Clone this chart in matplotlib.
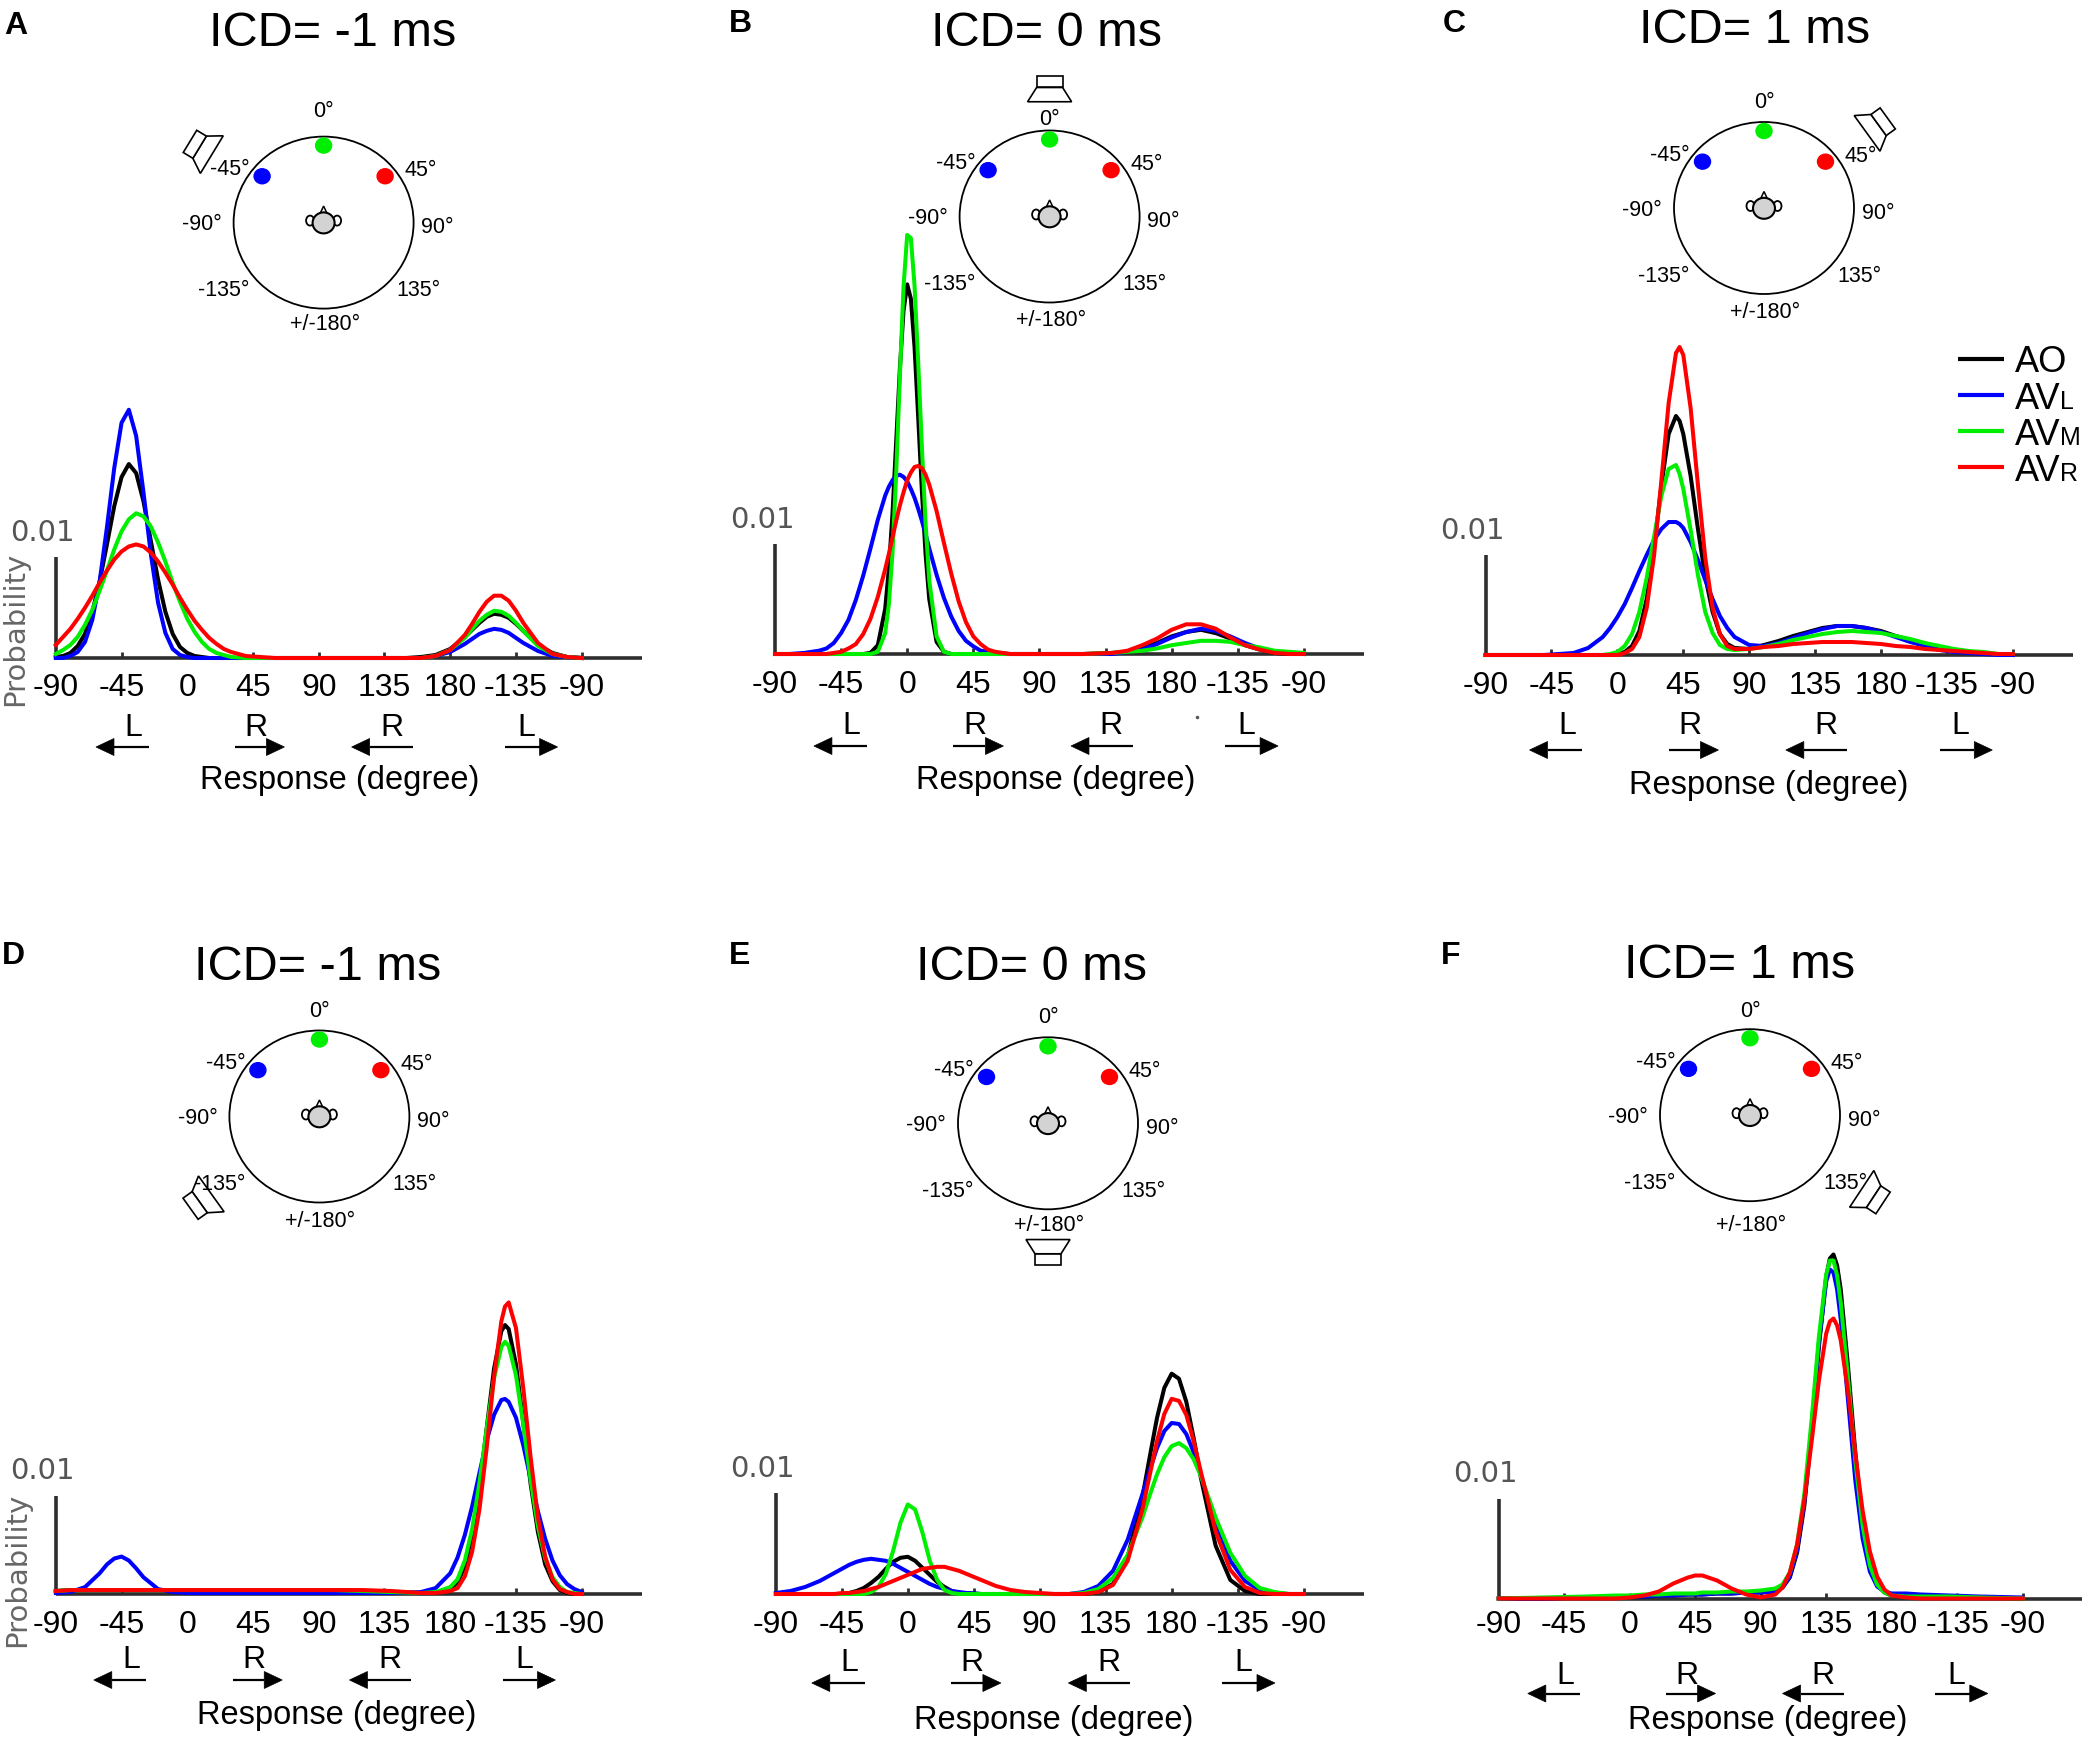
import numpy as np
import matplotlib
matplotlib.use("Agg")
import matplotlib.pyplot as plt
from matplotlib.patches import Ellipse, Polygon

plt.rcParams["font.family"] = ["Liberation Sans", "DejaVu Sans"]

W, H = 2089, 1744

# response distributions
# y values are probability in units of 1e-3 (scale bar = 10 -> "0.01")

# A  ICD = -1 ms, front loudspeaker at -45
x_A = [-90, -85, -80, -75, -70, -65, -60, -55, -50, -45, -40, -35, -30, -25, -20, -15, -10, -5, 0, 5,
       10, 15, 20, 25, 30, 40, 50, 60, 80, 100, 120, 140, 150, 160, 170, 180, 190, 195, 200, 205,
       210, 215, 220, 225, 230, 240, 250, 260, 270]
ao_A = [0.1, 0.2, 0.5, 1.2, 2.4, 4.6, 7.6, 11.3, 15.1, 18.0, 19.3, 18.4, 15.6, 11.7, 7.8, 4.6, 2.4, 1.1, 0.5, 0.2,
        0.1, 0, 0, 0, 0, 0, 0, 0, 0, 0, 0, 0, 0, 0.1, 0.3, 0.9, 2.1, 2.8, 3.5, 4.1,
        4.4, 4.3, 4.0, 3.4, 2.7, 1.3, 0.5, 0.1, 0]
avl_A = [0, 0, 0.2, 0.6, 1.6, 3.8, 7.6, 13.0, 18.9, 23.4, 24.7, 22.1, 16.5, 10.4, 5.5, 2.5, 0.9, 0.3, 0.1, 0,
         0, 0, 0, 0, 0, 0, 0, 0, 0, 0, 0, 0, 0, 0, 0.2, 0.6, 1.4, 1.9, 2.4, 2.7,
         2.9, 2.8, 2.5, 2.0, 1.5, 0.7, 0.2, 0.1, 0]
avm_A = [0.4, 0.8, 1.3, 2.1, 3.3, 4.8, 6.7, 8.7, 10.8, 12.6, 13.8, 14.4, 14.1, 13.1, 11.5, 9.6, 7.5, 5.6, 3.9, 2.6,
         1.6, 0.9, 0.5, 0.3, 0.1, 0, 0, 0, 0, 0, 0, 0, 0, 0, 0.2, 0.8, 2.0, 2.9, 3.7, 4.3,
         4.7, 4.6, 4.2, 3.5, 2.7, 1.2, 0.4, 0.1, 0]
avr_A = [1.3, 2.1, 2.9, 3.9, 5.0, 6.2, 7.5, 8.7, 9.8, 10.6, 11.1, 11.3, 11.1, 10.5, 9.6, 8.5, 7.3, 6.0, 4.8, 3.7,
         2.8, 2.0, 1.4, 0.9, 0.6, 0.2, 0.1, 0, 0, 0, 0, 0, 0, 0, 0.2, 0.8, 2.3, 3.4, 4.6, 5.6,
         6.2, 6.2, 5.7, 4.7, 3.5, 1.5, 0.4, 0.1, 0]

# B  ICD = 0 ms, loudspeaker at 0
x_B = [-90, -80, -70, -60, -55, -50, -45, -40, -35, -30, -25, -20, -15, -12.5, -10, -7.5, -5, -2.5, 0, 2.5,
       5, 7.5, 10, 12.5, 15, 20, 25, 30, 35, 40, 45, 50, 55, 60, 70, 80, 100, 120, 140, 150,
       160, 170, 180, 190, 200, 210, 220, 230, 240, 250, 260, 270]
ao_B = [0, 0, 0, 0, 0, 0, 0, 0, 0, 0, 0.1, 0.8, 4.1, 7.7, 12.8, 19.3, 25.9, 31.2, 33.6, 32.3,
        27.9, 21.5, 14.8, 9.1, 5.0, 1.1, 0.2, 0, 0, 0, 0, 0, 0, 0, 0, 0, 0, 0, 0.1, 0.2,
        0.5, 1.0, 1.6, 2.0, 2.2, 1.9, 1.4, 0.8, 0.4, 0.1, 0, 0]
avl_B = [0, 0, 0.1, 0.3, 0.5, 1.0, 1.9, 3.1, 4.9, 7.1, 9.6, 12.2, 14.4, 15.2, 15.8, 16.2, 16.3, 16.1, 15.7, 15.0,
         14.2, 13.2, 12.1, 10.9, 9.6, 7.2, 5.1, 3.4, 2.1, 1.2, 0.7, 0.3, 0.2, 0.1, 0, 0, 0, 0, 0, 0.2,
         0.4, 0.9, 1.5, 2.0, 2.3, 2.1, 1.6, 1.0, 0.5, 0.2, 0.1, 0]
avm_B = [0, 0, 0, 0, 0, 0, 0, 0, 0, 0, 0, 0.2, 1.9, 4.5, 9.2, 16.4, 25.2, 33.4, 38.1, 37.8,
         33.5, 26.5, 18.8, 11.9, 6.7, 1.6, 0.2, 0, 0, 0, 0, 0, 0, 0, 0, 0, 0, 0, 0.1, 0.2,
         0.3, 0.5, 0.8, 1.0, 1.2, 1.2, 1.1, 0.8, 0.6, 0.3, 0.2, 0.1]
avr_B = [0, 0, 0, 0, 0, 0.1, 0.2, 0.5, 0.9, 1.8, 3.2, 5.2, 7.7, 9.1, 10.6, 12.1, 13.5, 14.7, 15.8, 16.5,
         17.0, 17.1, 16.9, 16.3, 15.4, 13.0, 10.1, 7.3, 4.8, 2.9, 1.6, 0.9, 0.4, 0.2, 0, 0, 0, 0, 0.1, 0.3,
         0.8, 1.4, 2.2, 2.7, 2.7, 2.3, 1.5, 0.8, 0.4, 0.1, 0, 0]

# C  ICD = 1 ms, loudspeaker at 45
x_C = [-90, -75, -60, -50, -40, -30, -20, -10, -5, 0, 5, 10, 15, 20, 25, 30, 35, 40, 42.5, 45,
       50, 55, 60, 65, 70, 75, 80, 90, 100, 110, 120, 130, 140, 150, 160, 170, 180, 190, 200, 210,
       220, 230, 240, 250, 260, 270]
ao_C = [0, 0, 0, 0, 0, 0, 0, 0, 0, 0.1, 0.3, 0.9, 2.4, 5.6, 10.7, 16.9, 22.1, 23.9, 23.4, 22.1,
        17.9, 12.6, 7.8, 4.3, 2.1, 1.1, 0.7, 0.6, 1.0, 1.4, 1.9, 2.3, 2.7, 2.9, 2.9, 2.7, 2.4, 1.9, 1.5, 1.1,
        0.7, 0.4, 0.3, 0.1, 0.1, 0]
avl_C = [0, 0, 0, 0, 0.1, 0.2, 0.7, 1.8, 2.7, 3.8, 5.1, 6.7, 8.4, 10.0, 11.5, 12.6, 13.3, 13.3, 13.1, 12.7,
         11.3, 9.5, 7.5, 5.6, 3.9, 2.7, 1.8, 1.0, 0.9, 1.2, 1.7, 2.2, 2.6, 2.9, 2.9, 2.7, 2.3, 1.8, 1.3, 0.9,
         0.5, 0.3, 0.2, 0.1, 0, 0]
avm_C = [0, 0, 0, 0, 0, 0, 0, 0, 0.1, 0.3, 0.9, 2.1, 4.3, 7.7, 11.8, 15.9, 18.6, 19.0, 18.1, 16.6,
         12.5, 8.0, 4.3, 2.2, 1.0, 0.6, 0.5, 0.6, 0.8, 1.1, 1.5, 1.8, 2.1, 2.3, 2.4, 2.3, 2.2, 1.9, 1.6, 1.2,
         0.9, 0.6, 0.4, 0.3, 0.1, 0.1]
avr_C = [0, 0, 0, 0, 0, 0, 0, 0, 0, 0, 0.2, 0.6, 1.8, 4.7, 9.9, 17.4, 25.2, 30.2, 30.8, 30.0,
         24.7, 17.0, 9.7, 4.7, 2.1, 0.9, 0.6, 0.6, 0.8, 0.9, 1.1, 1.2, 1.3, 1.3, 1.3, 1.2, 1.1, 0.9, 0.8, 0.6,
         0.5, 0.4, 0.3, 0.2, 0.1, 0.1]

# D  ICD = -1 ms, loudspeaker at -135
x_D = [-90, -80, -70, -60, -55, -50, -45, -40, -35, -30, -20, -10, 0, 20, 40, 60, 80, 100, 120, 140,
       160, 170, 180, 185, 190, 195, 200, 205, 210, 215, 217.5, 220, 225, 230, 235, 240, 245, 250, 255, 260,
       265, 270]
ao_D = [0.3, 0.4, 0.4, 0.4, 0.4, 0.4, 0.4, 0.4, 0.4, 0.4, 0.4, 0.4, 0.4, 0.4, 0.4, 0.4, 0.4, 0.4, 0.3, 0.2,
        0.1, 0.1, 0.5, 1.2, 2.8, 6.0, 10.8, 16.9, 22.9, 26.7, 27.3, 26.9, 23.3, 17.4, 11.2, 6.3, 3.0, 1.3, 0.4, 0.1,
        0, 0]
avl_D = [0.1, 0.2, 0.7, 2.1, 3.0, 3.6, 3.8, 3.4, 2.6, 1.7, 0.5, 0.2, 0.1, 0.1, 0.1, 0.1, 0.1, 0.1, 0.1, 0.1,
         0.2, 0.6, 2.1, 3.7, 6.0, 8.9, 12.3, 15.6, 18.2, 19.7, 19.8, 19.5, 17.9, 15.1, 11.7, 8.4, 5.6, 3.4, 1.9, 1.0,
         0.5, 0.2]
avm_D = [0.3, 0.4, 0.4, 0.4, 0.4, 0.4, 0.4, 0.4, 0.4, 0.4, 0.4, 0.4, 0.4, 0.4, 0.4, 0.4, 0.4, 0.4, 0.3, 0.2,
         0.1, 0.2, 0.7, 1.5, 3.4, 6.6, 11.3, 16.8, 21.9, 25.1, 25.6, 25.2, 22.2, 17.2, 11.6, 6.9, 3.6, 1.7, 0.7, 0.2,
         0.1, 0]
avr_D = [0.3, 0.4, 0.4, 0.4, 0.4, 0.4, 0.4, 0.4, 0.4, 0.4, 0.4, 0.4, 0.4, 0.4, 0.4, 0.4, 0.4, 0.4, 0.4, 0.3,
         0.1, 0.1, 0.3, 0.6, 1.8, 4.3, 8.6, 14.9, 22.1, 27.7, 29.2, 29.6, 27.0, 20.9, 13.9, 7.8, 3.8, 1.5, 0.5, 0.2,
         0, 0]

# E  ICD = 0 ms, loudspeaker at 180
x_E = [-90, -80, -70, -60, -50, -45, -40, -35, -30, -25, -20, -15, -10, -5, 0, 5, 10, 15, 20, 25,
       30, 35, 40, 50, 60, 70, 80, 90, 100, 110, 120, 130, 140, 150, 160, 165, 170, 175, 180, 185,
       190, 195, 200, 210, 220, 230, 240, 250, 260, 270]
ao_E = [0, 0, 0, 0, 0, 0, 0.1, 0.3, 0.6, 1.1, 1.7, 2.5, 3.2, 3.6, 3.7, 3.3, 2.6, 1.9, 1.2, 0.7,
        0.3, 0.1, 0.1, 0, 0, 0, 0, 0, 0, 0, 0, 0.2, 1.0, 3.7, 9.6, 13.6, 17.5, 20.5, 21.9, 21.4,
        19.1, 15.5, 11.5, 4.8, 1.4, 0.3, 0, 0, 0, 0]
avl_E = [0.1, 0.3, 0.7, 1.3, 2.1, 2.5, 2.9, 3.2, 3.4, 3.5, 3.4, 3.3, 3.0, 2.6, 2.2, 1.8, 1.4, 1.0, 0.7, 0.5,
         0.3, 0.2, 0.1, 0, 0, 0, 0, 0, 0, 0, 0.2, 0.8, 2.3, 5.4, 9.9, 12.3, 14.5, 16.2, 17.0, 16.9,
         15.9, 14.1, 11.8, 7.0, 3.3, 1.3, 0.4, 0.1, 0, 0]
avm_E = [0, 0, 0, 0, 0, 0, 0, 0, 0, 0.2, 0.7, 2.0, 4.3, 7.1, 8.9, 8.4, 6.1, 3.3, 1.4, 0.4,
         0.1, 0, 0, 0, 0, 0, 0, 0, 0, 0, 0.1, 0.5, 1.6, 3.9, 7.6, 9.8, 11.9, 13.6, 14.7, 15.0,
         14.5, 13.4, 11.7, 7.6, 4.1, 1.8, 0.6, 0.2, 0, 0]
avr_E = [0, 0, 0, 0, 0, 0.1, 0.1, 0.2, 0.3, 0.5, 0.7, 1.0, 1.3, 1.6, 1.9, 2.2, 2.5, 2.6, 2.7, 2.7,
         2.5, 2.3, 2.0, 1.4, 0.8, 0.4, 0.2, 0.1, 0, 0, 0, 0.2, 0.9, 3.3, 8.4, 11.8, 15.2, 17.9, 19.4, 19.2,
         17.8, 15.2, 12.1, 6.2, 2.4, 0.7, 0.1, 0, 0, 0]

# F  ICD = 1 ms, loudspeaker at 135
x_F = [-90, -60, -30, -10, 0, 10, 20, 30, 40, 45, 50, 60, 70, 80, 90, 100, 105, 110, 115, 120,
       125, 130, 135, 137.5, 140, 142.5, 145, 150, 155, 160, 165, 170, 175, 180, 190, 200, 220, 240, 270]
ao_F = [0, 0, 0.1, 0.2, 0.2, 0.2, 0.3, 0.3, 0.4, 0.4, 0.4, 0.5, 0.5, 0.6, 0.6, 0.7, 1.1, 2.1, 4.6, 9.3,
        16.6, 25.2, 32.2, 34.0, 34.4, 33.3, 30.9, 23.2, 14.6, 7.7, 3.5, 1.4, 0.6, 0.3, 0.2, 0.2, 0.1, 0.1, 0]
avl_F = [0, 0, 0.1, 0.2, 0.2, 0.2, 0.3, 0.3, 0.4, 0.4, 0.4, 0.5, 0.5, 0.6, 0.6, 0.7, 1.1, 2.2, 4.8, 9.7,
         17.2, 25.6, 31.7, 32.9, 32.6, 30.9, 27.9, 19.8, 11.8, 6.0, 2.7, 1.2, 0.7, 0.5, 0.5, 0.4, 0.3, 0.2, 0.1]
avm_F = [0, 0.1, 0.2, 0.3, 0.3, 0.4, 0.4, 0.5, 0.5, 0.5, 0.6, 0.6, 0.7, 0.7, 0.8, 1.0, 1.4, 2.6, 5.4, 10.5,
         17.9, 26.2, 32.4, 33.8, 33.8, 32.3, 29.6, 22.0, 13.8, 7.3, 3.3, 1.4, 0.6, 0.3, 0.2, 0.2, 0.2, 0.1, 0]
avr_F = [0, 0, 0, 0, 0.1, 0.3, 0.7, 1.5, 2.1, 2.3, 2.3, 1.8, 1.0, 0.4, 0.1, 0.4, 1.1, 2.6, 5.4, 9.9,
         15.7, 21.8, 26.5, 27.7, 28.0, 27.3, 25.8, 20.7, 14.5, 8.8, 4.7, 2.2, 0.9, 0.3, 0.1, 0, 0, 0, 0]

tick_pos = [-90, -45, 0, 45, 90, 135, 180, 225, 270]
tick_lab = ["-90", "-45", "0", "45", "90", "135", "180", "-135", "-90"]
curve_colors = ["#000000", "#0000ff", "#00ee00", "#ff0000"]
legend_main = ["AO", "AV", "AV", "AV"]
legend_sub = ["", "L", "M", "R"]
panel_titles = ["ICD= -1 ms", "ICD= 0 ms", "ICD= 1 ms", "ICD= -1 ms", "ICD= 0 ms", "ICD= 1 ms"]
panel_letters = ["A", "B", "C", "D", "E", "F"]
dial_labels = ["0°", "-45°", "45°", "-90°", "90°", "-135°", "135°", "+/-180°"]
dot_az = [-53, 0, 53]  # AVL, AVM, AVR marks on the dial, as drawn

curves = [
    (x_A, [ao_A, avl_A, avm_A, avr_A]),
    (x_B, [ao_B, avl_B, avm_B, avr_B]),
    (x_C, [ao_C, avl_C, avm_C, avr_C]),
    (x_D, [ao_D, avl_D, avm_D, avr_D]),
    (x_E, [ao_E, avl_E, avm_E, avr_E]),
    (x_F, [ao_F, avl_F, avm_F, avr_F]),
]

# layout in pixels of the 2089x1744 canvas
layout = [
    dict(x0=55.8, sp=65.74, base=658, bar=100.5, circ=(323.6, 222.6), title=(332.6, 29), letter=(16, 23),
         spk=(-58.7, 143.6), top=-113, bottom=99.7, shift=0.5, offs=(66, 89, 122), resp=104, tick=26,
         prob=(15.6, 628.5)),
    dict(x0=775, sp=66.1, base=654, bar=110, circ=(1049.6, 216.5), title=(1046.8, 29), letter=(740, 21),
         spk=(0, 127.5), top=-99, bottom=102.3, shift=-0.5, offs=(68, 92, 126), resp=101, tick=27, prob=None),
    dict(x0=1485.6, sp=65.9, base=655, bar=100, circ=(1764, 208), title=(1754.5, 25.5), letter=(1454, 21),
         spk=(54.1, 140), top=-108, bottom=102, shift=3, offs=(67, 95, 130), resp=103.5, tick=27, prob=None),
    dict(x0=55.8, sp=65.74, base=1594, bar=98.5, circ=(319.4, 1116.5), title=(317.6, 963), letter=(13.4, 952.5),
         spk=(-125.6, 145.7), top=-107.3, bottom=102.5, shift=-1, offs=(62, 86, 121), resp=102.4, tick=27,
         prob=(17.6, 1570)),
    dict(x0=775.9, sp=65.96, base=1594, bar=100.6, circ=(1048, 1123.3), title=(1031.5, 963), letter=(739.5, 952),
         spk=(180, 129), top=-107.6, bottom=99.5, shift=-2.5, offs=(65, 89, 126), resp=99.5, tick=27, prob=None),
    dict(x0=1498.7, sp=65.5, base=1598.5, bar=100, circ=(1750, 1115.2), title=(1739.4, 960.5),
         letter=(1450.5, 952.5), spk=(123.4, 146.6), top=-106, bottom=107.6, shift=-7, offs=(74, 95, 122),
         resp=95, tick=23, prob=None),
]

arrow_specs = [("L", -27, -63, -37.5), ("R", 32, 66, 46.5), ("R", 154, 112, 139.5), ("L", 217, 253, 231.5)]
AX_COL = "#2e2e2e"
LW = 2.9


def draw_head(ov, cx, cy):
    for s in (-1, 1):
        ov.add_patch(Ellipse((cx + s * 13.5, cy - 2), 8, 10, fc="white", ec="k", lw=1.3, zorder=2))
    ov.add_patch(Polygon([[cx - 4, cy - 8], [cx + 4, cy - 8], [cx, cy - 16.5]], closed=True,
                         fc="white", ec="k", lw=1.1, zorder=2))
    ov.add_patch(Ellipse((cx, cy + 0.3), 22, 21, fc="#d3d3d3", ec="k", lw=1.5, zorder=3))


def draw_speaker(ov, cx, cy, az, dist):
    a = np.radians(az)
    U = np.array([np.sin(a), -np.cos(a)])
    V = np.array([np.cos(a), np.sin(a)])
    S = np.array([cx, cy]) + dist * U

    def P(u, v):
        return S + u * U + v * V

    cone = [P(-12.75, -22), P(-12.75, 22), P(1.5, 13), P(1.5, -13)]
    box = [P(1.5, -13), P(1.5, 13), P(12.75, 13), P(12.75, -13)]
    for pts in (cone, box):
        ov.add_patch(Polygon(pts, closed=True, fc="white", ec="k", lw=1.2, joinstyle="miter", zorder=2))


def draw_arrow(ov, xt, xh, y):
    d = 1 if xh > xt else -1
    hl, hw = 18, 17
    ov.plot([xt, xh - d * hl], [y, y], color="k", lw=1.6, solid_capstyle="butt")
    ov.add_patch(Polygon([[xh, y], [xh - d * hl, y - hw / 2], [xh - d * hl, y + hw / 2]],
                         closed=True, fc="k", ec="k", lw=0.5))


fig = plt.figure(figsize=(W / 100, H / 100), dpi=100)
ov = fig.add_axes([0, 0, 1, 1])
ov.set_xlim(0, W)
ov.set_ylim(H, 0)
ov.axis("off")
ov.set_zorder(0)

for p, (xs, ys), title, letter in zip(layout, curves, panel_titles, panel_letters):
    x0, sp, base, bar = p["x0"], p["sp"], p["base"], p["bar"]

    def px(d):
        return x0 + (d + 90) / 45 * sp

    # curve axes
    wpx = (311 + 90) / 45 * sp
    hpx = 480
    ax = fig.add_axes([x0 / W, 1 - base / H, wpx / W, hpx / H])
    ax.set_zorder(1)
    ax.patch.set_visible(False)
    ax.axis("off")
    ax.set_xlim(-90, 311)
    ax.set_ylim(0, hpx / bar * 10)
    unit = 10 / bar
    ax.plot([-90, 311], [0, 0], color=AX_COL, lw=2.6, solid_capstyle="butt", zorder=1, clip_on=False)
    ax.plot([-90, -90], [0, 10], color=AX_COL, lw=2.6, solid_capstyle="butt", zorder=1, clip_on=False)
    for t in tick_pos[1:]:
        ax.plot([t, t], [0, 6 * unit], color=AX_COL, lw=2.0, solid_capstyle="butt", zorder=1, clip_on=False)
    for y, c in zip(ys, curve_colors):
        ax.plot(xs, y, color=c, lw=LW, zorder=3, clip_on=False, solid_joinstyle="round")

    # tick labels and direction hints
    for t, lab in zip(tick_pos, tick_lab):
        ov.text(px(t), base + p["tick"] + 11.5, lab, ha="center", va="baseline", fontsize=23)
    off_lab, off_arr, off_resp = p["offs"]
    for lab, xt, xh, xl in arrow_specs:
        s = p["shift"]
        ov.text(px(xl + s), base + off_lab + 11.5, lab, ha="center", va="baseline", fontsize=23)
        draw_arrow(ov, px(xt + s), px(xh + s), base + off_arr)
    ov.text(px(p["resp"]), base + off_resp, "Response (degree)", ha="center", va="center", fontsize=23.5)

    # scale bar label
    ov.text(x0 - 13, base - bar - 27 + 10.6, "0.01", ha="center", va="baseline", fontsize=21,
            family=["DejaVu Sans"], color="#555555")
    if p["prob"] is not None:
        ov.text(p["prob"][0], p["prob"][1], "Probability", rotation=90, ha="center", va="center",
                fontsize=21, family=["DejaVu Sans"], color="#666666")

    # title and panel letter
    ov.text(p["title"][0], p["title"][1] + 17.4, title, ha="center", va="baseline", fontsize=35)
    ov.text(p["letter"][0], p["letter"][1] + 11.5, letter, ha="center", va="baseline", fontsize=23,
            fontweight="bold")

    # dial
    cx, cy = p["circ"]
    ov.add_patch(Ellipse((cx, cy), 180, 172, fill=False, ec="k", lw=1.3, zorder=1))
    for az, c in zip(dot_az, curve_colors[1:]):
        a = np.radians(az)
        ov.add_patch(Ellipse((cx + 77 * np.sin(a), cy - 77 * np.cos(a)), 16, 15, color=c, zorder=3))
    offsets = [(0, p["top"]), (-94, -55), (97, -54), (-122, 0), (114, 3), (-100, 66), (95, 66), (1, p["bottom"])]
    for lab, (dx, dy) in zip(dial_labels, offsets):
        ov.text(cx + dx, cy + dy + 7.7, lab, ha="center", va="baseline", fontsize=15.5)
    draw_head(ov, cx, cy)
    draw_speaker(ov, cx, cy, p["spk"][0], p["spk"][1])

# small speck seen in panel B
ov.plot([1197], [716.6], marker="o", ms=1.5, color="#555555")

# legend (panel C)
for i, (c, main, sub) in enumerate(zip(curve_colors, legend_main, legend_sub)):
    ly = 359.5 + i * 36
    ov.plot([1958, 2004], [ly, ly], color=c, lw=3.0, solid_capstyle="butt")
    ov.text(2015, ly + 13, main, ha="left", va="baseline", fontsize=26)
    if sub:
        ov.text(2060, ly + 13, sub, ha="left", va="baseline", fontsize=18)

fig.savefig("out.png", dpi=100)
